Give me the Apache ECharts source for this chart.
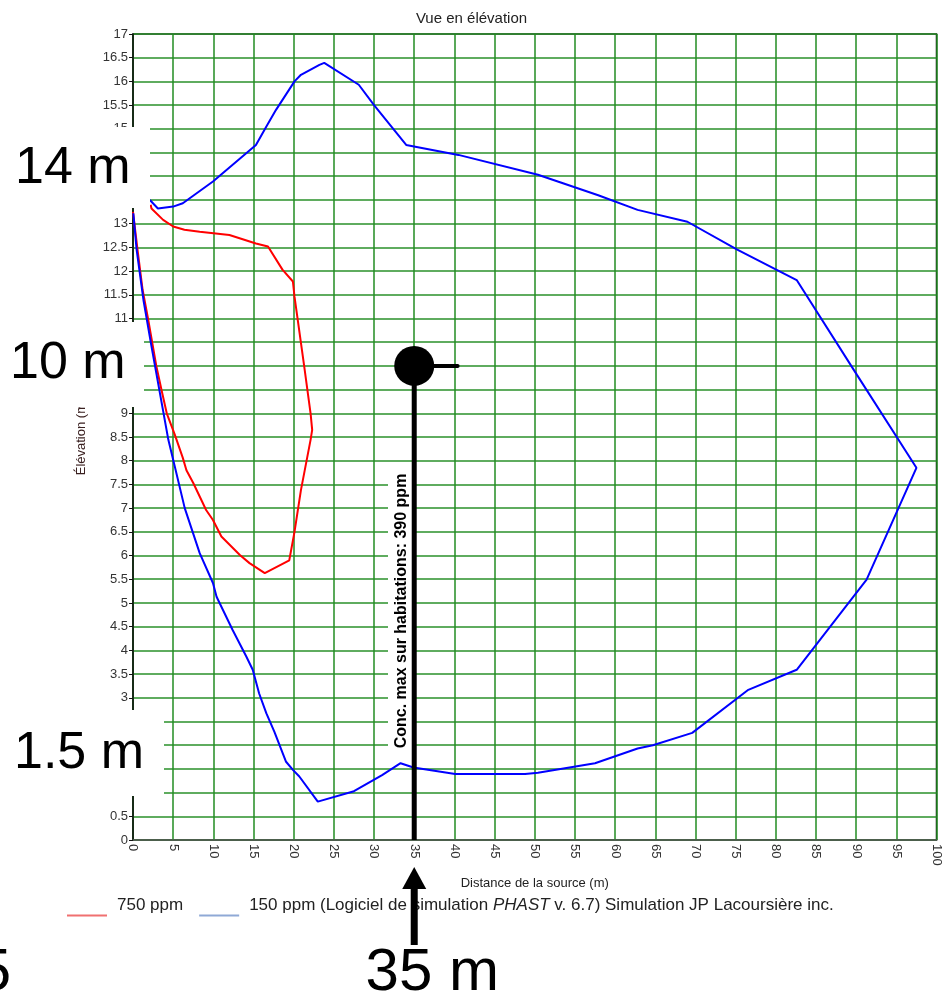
<!DOCTYPE html>
<html><head><meta charset="utf-8">
<script src="https://cdn.jsdelivr.net/npm/echarts@6/dist/echarts.min.js"></script>
<style>html,body{margin:0;padding:0;background:#fff}#c{width:943px;height:1000px}</style>
</head><body><div id="c"></div>
<script>
// ---- data ----
const contour750 = [[0.0,13.25],[0.6,12.4],[1.2,11.6],[1.9,10.97],[2.9,10.0],[3.55,9.49],[4.2,9.0],[5.2,8.55],[6.2,8.06],[6.65,7.8],[7.5,7.53],[9.1,6.96],[9.95,6.75],[11.0,6.4],[13.3,6.01],[14.5,5.84],[16.4,5.63],[19.45,5.9],[20.1,6.5],[20.9,7.38],[22.1,8.44],[22.3,8.65],[22.1,9.0],[21.3,10.0],[20.1,11.46],[19.9,11.78],[18.6,12.03],[16.8,12.52],[15.3,12.58],[12.0,12.76],[8.3,12.83],[6.4,12.87],[5.0,12.94],[3.75,13.08],[2.3,13.32],[2.2,13.4]];
const contour150 = [[2.1,13.5],[3.1,13.32],[5.0,13.36],[6.2,13.43],[9.95,13.89],[15.3,14.66],[16.6,15.05],[17.8,15.4],[20.1,16.0],[20.9,16.14],[23.2,16.35],[23.8,16.39],[28.1,15.93],[30.0,15.5],[34.0,14.66],[40.5,14.45],[50.4,14.03],[57.9,13.6],[62.8,13.29],[69.0,13.04],[75.2,12.45],[82.6,11.81],[90.1,9.81],[97.5,7.85],[91.3,5.49],[82.6,3.59],[76.5,3.16],[69.6,2.26],[64.7,2.0],[62.8,1.93],[57.5,1.62],[50.4,1.42],[48.8,1.39],[40.1,1.39],[34.9,1.53],[33.3,1.62],[31.0,1.37],[27.5,1.03],[23.0,0.81],[20.7,1.34],[19.9,1.48],[19.05,1.65],[17.6,2.28],[16.6,2.67],[15.7,3.09],[14.9,3.59],[14.1,3.87],[12.4,4.43],[10.4,5.13],[9.95,5.42],[8.3,6.05],[6.44,7.0],[5.0,8.02],[4.4,8.44],[2.3,10.41],[1.3,11.39],[0.45,12.45],[0.04,13.22]];
const habitation = [35, 10];
const habitationStick = [[35, 10], [40.4, 10]];
const habitationDrop = [[35, 10], [35, 0]];
const seriesNames = ['750 ppm', '150 ppm'];
const xTickStep = 5, xMax = 100;
const yTickStep = 0.5, yMax = 17;
const bigLabels = ['14 m', '10 m', '1.5 m', '35 m'];
const concText = 'Conc. max sur habitations: 390 ppm';

const FONT = '"Liberation Sans", Arial, sans-serif';
const chart = echarts.init(document.getElementById('c'));
chart.setOption({
  animation: false,
  backgroundColor: '#fff',
  title: { text: 'Vue en élévation', left: 'center', top: 11, padding: 0,
    textStyle: { fontSize: 15, fontWeight: 'normal', color: '#222', fontFamily: FONT } },
  grid: { left: 133, right: 2, top: 34, bottom: 160, show: true, borderColor: '#111', borderWidth: 1.5, backgroundColor: 'transparent' },
  legend: {
    left: 62, top: 892, itemWidth: 40, itemHeight: 2, itemGap: 16, icon: 'rect',
    data: [{ name: seriesNames[0], itemStyle: { color: '#f07070' } }, { name: seriesNames[1], itemStyle: { color: '#8fa9d6' } }],
    formatter: '{t|{name}}',
    textStyle: { fontSize: 17, color: '#222', fontFamily: FONT,
      rich: { t: { fontSize: 17, color: '#222', fontFamily: FONT, padding: [0, 0, 20, 5] } } }
  },
  xAxis: {
    type: 'value', min: 0, max: xMax, interval: xTickStep,
    name: 'Distance de la source (m)', nameLocation: 'middle', nameGap: 37,
    nameTextStyle: { fontSize: 13, color: '#222', fontFamily: FONT },
    axisLine: { lineStyle: { color: '#555', width: 1.5 } },
    axisTick: { show: false },
    axisLabel: { rotate: -90, margin: 4, fontSize: 13, color: '#333', fontFamily: FONT },
    splitLine: { show: true, lineStyle: { color: '#228c22', width: 1.5 } }
  },
  yAxis: {
    type: 'value', min: 0, max: yMax, interval: yTickStep,
    name: 'Élévation (m)', nameLocation: 'middle', nameGap: 45,
    nameTextStyle: { fontSize: 13, color: '#3a2020', fontFamily: FONT },
    axisLine: { show: true, lineStyle: { color: '#111', width: 1.5 } },
    axisTick: { show: true, length: 4, lineStyle: { color: '#111' } },
    axisLabel: { margin: 5, fontSize: 13, color: '#333', fontFamily: FONT },
    splitLine: { show: true, lineStyle: { color: '#2a912a', width: 1.5 } }
  },
  series: [
    { name: seriesNames[0], type: 'line', data: contour750, showSymbol: false, smooth: false,
      lineStyle: { color: '#ff0000', width: 2 }, itemStyle: { color: '#ff0000' }, z: 3 },
    { name: seriesNames[1], type: 'line', data: contour150, showSymbol: false, smooth: false,
      lineStyle: { color: '#0000ff', width: 2 }, itemStyle: { color: '#0000ff' }, z: 3 },
    { name: 'drop', type: 'line', data: habitationDrop, showSymbol: false,
      lineStyle: { color: '#000', width: 5 }, z: 5 },
    { name: 'stick', type: 'line', data: habitationStick, showSymbol: false,
      lineStyle: { color: '#000', width: 4, cap: 'round' }, z: 5 },
    { name: 'habitation', type: 'scatter', data: [habitation], symbol: 'circle', symbolSize: 40,
      itemStyle: { color: '#000', opacity: 1 }, emphasis: { disabled: true }, z: 6 }
  ]
});

const p = chart.convertToPixel({ gridIndex: 0 }, [habitation[0], 0]);
const px = p[0];
const bigStyle = { fontSize: 52, fontFamily: FONT, fill: '#000', verticalAlign: 'middle' };
chart.setOption({
  graphic: [
    { type: 'rect', shape: { x: 0, y: 127, width: 150, height: 81 }, style: { fill: '#fff' }, z: 100 },
    { type: 'rect', shape: { x: 0, y: 322, width: 144, height: 85 }, style: { fill: '#fff' }, z: 100 },
    { type: 'rect', shape: { x: 0, y: 710, width: 164, height: 86 }, style: { fill: '#fff' }, z: 100 },
    { type: 'text', x: 15, y: 169, style: Object.assign({ text: bigLabels[0], align: 'left' }, bigStyle), z: 101 },
    { type: 'text', x: 10, y: 364, style: Object.assign({ text: bigLabels[1], align: 'left' }, bigStyle), z: 101 },
    { type: 'text', x: 14, y: 754, style: Object.assign({ text: bigLabels[2], align: 'left' }, bigStyle), z: 101 },
    { type: 'text', x: px + 18, y: 973, style: Object.assign({ text: bigLabels[3], align: 'center' }, bigStyle, { fontSize: 60 }), z: 101 },
    { type: 'text', x: 11, y: 973, style: Object.assign({ text: '5', align: 'right' }, bigStyle, { fontSize: 60 }), z: 101 },
    { type: 'rect', shape: { x: 388, y: 468, width: 25, height: 285 }, style: { fill: '#fff' }, z: 1 },
    { type: 'text', x: 402, y: 611, rotation: Math.PI / 2,
      style: { text: concText, fontSize: 16, fontWeight: 'bold', fontFamily: FONT, fill: '#000', align: 'center', verticalAlign: 'middle' }, z: 2 },
    { type: 'polygon', shape: { points: [[px, 867], [px - 12, 889], [px + 12, 889]] }, style: { fill: '#000' }, z: 101 },
    { type: 'rect', shape: { x: px - 3.5, y: 886, width: 7, height: 59 }, style: { fill: '#000' }, z: 101 },
    { type: 'text', x: 320, y: 905,
      style: { text: '(Logiciel de simulation {i|PHAST} v. 6.7) Simulation JP Lacoursière inc.',
        fontSize: 17, fontFamily: FONT, fill: '#222', verticalAlign: 'middle', align: 'left',
        rich: { i: { fontStyle: 'italic', fontSize: 17, fontFamily: FONT, fill: '#222' } } }, z: 50 }
  ]
});
</script></body></html>
